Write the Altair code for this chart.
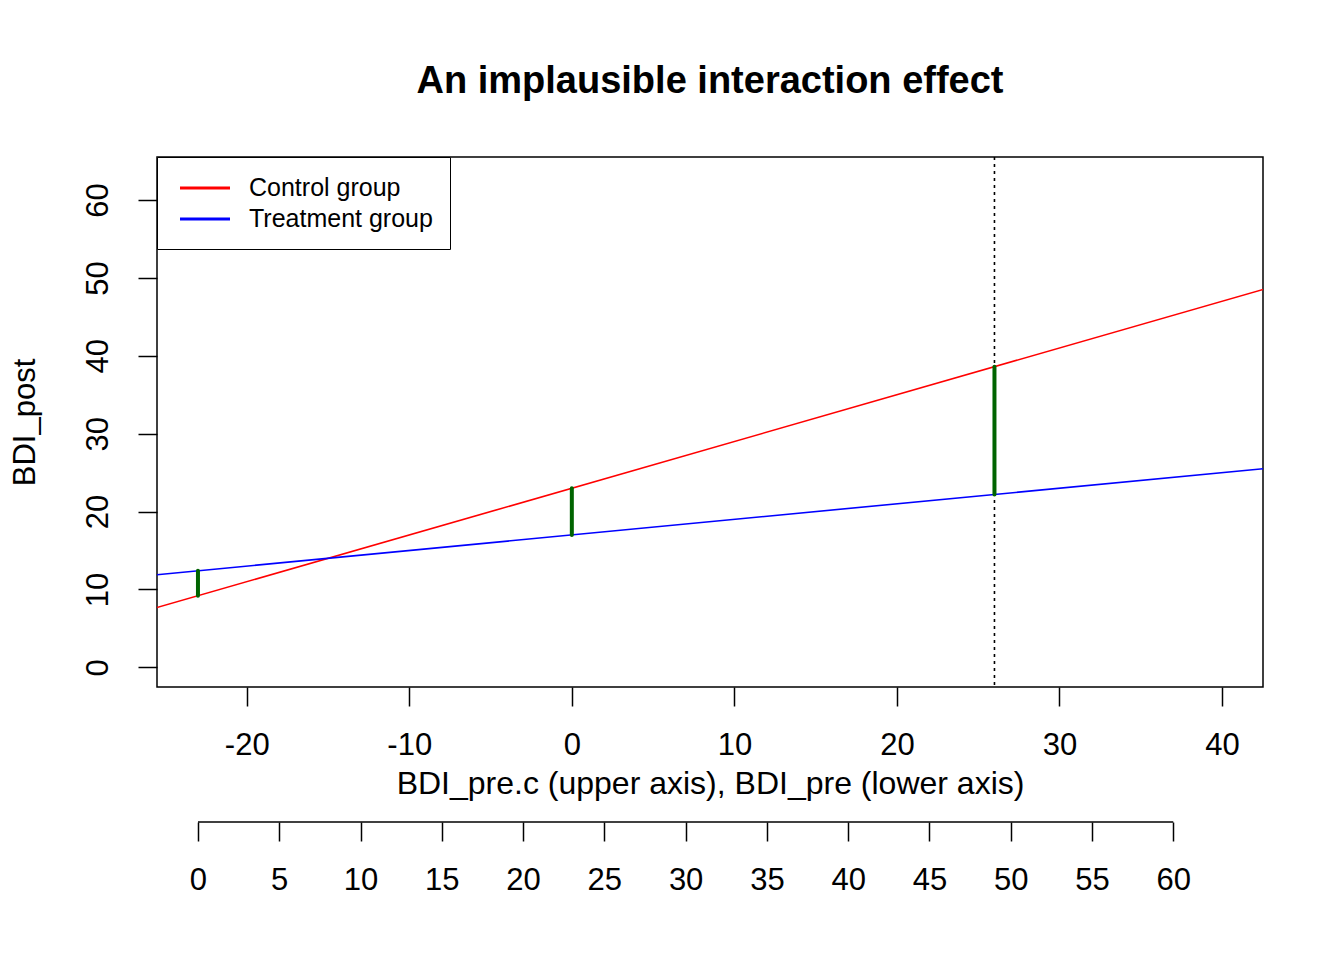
import altair as alt
import pandas as pd

FONT = "Liberation Sans"

# regression lines, read at two x positions beyond the plot edges (clipped)
groups = ["Control group", "Treatment group"]
line_x = [-30, 45]
ctrl_y = [5.0, 50.0]
treat_y = [11.0, 26.0]

# simple-slope differences marked in green
diff_x = [-23, 0, 26]
diff_ctrl = [9.2, 23.0, 38.6]
diff_treat = [12.4, 17.0, 22.2]

vline_x = [26]

upper_ticks = [-20, -10, 0, 10, 20, 30, 40]
lower_ticks = [0, 5, 10, 15, 20, 25, 30, 35, 40, 45, 50, 55, 60]
y_ticks = [0, 10, 20, 30, 40, 50, 60]

# data range of BDI_pre.c and BDI_post, with R's 4% axis padding
x_min, x_max = -23, 40
y_min, y_max = 0, 63
shift = 23  # BDI_pre = BDI_pre.c + 23
xpad = 0.04 * (x_max - x_min)
ypad = 0.04 * (y_max - y_min)
x_dom = [x_min - xpad, x_max + xpad]
y_dom = [y_min - ypad, y_max + ypad]

lines = pd.DataFrame({
    "x": line_x * 2,
    "y": ctrl_y + treat_y,
    "group": [groups[0]] * 2 + [groups[1]] * 2,
})
diffs = pd.DataFrame({"x": diff_x, "y": diff_ctrl, "y2": diff_treat})
vline = pd.DataFrame({"x": vline_x})
lower = pd.DataFrame({"x": [lower_ticks[0]], "x2": [lower_ticks[-1]]})

x_scale = alt.Scale(domain=x_dom, nice=False, zero=False)
y_scale = alt.Scale(domain=y_dom, nice=False, zero=False)

# R prints a plain hyphen for negative numbers
hyphen = "datum.value < 0 ? '-' + abs(datum.value) : '' + datum.value"

x_axis = alt.Axis(
    values=upper_ticks, grid=False, domain=False, tickSize=19, tickColor="black",
    tickWidth=1.5, labelFontSize=31, labelPadding=24, labelColor="black",
    labelExpr=hyphen,
    title="BDI_pre.c (upper axis), BDI_pre (lower axis)", titleFontSize=32,
    titleFontWeight="normal", titleColor="black", titlePadding=8,
)
y_axis = alt.Axis(
    values=y_ticks, grid=False, domain=False, tickSize=19, tickColor="black",
    tickWidth=1.5, labelFontSize=31, labelAngle=-90, labelAlign="center",
    labelBaseline="bottom", labelPadding=24, labelColor="black",
    title="BDI_post", titleFontSize=31, titleFontWeight="normal",
    titleColor="black", titlePadding=41,
)

reg = alt.Chart(lines).mark_line(clip=True, strokeWidth=1.6).encode(
    x=alt.X("x:Q", scale=x_scale, axis=x_axis),
    y=alt.Y("y:Q", scale=y_scale, axis=y_axis),
    color=alt.Color(
        "group:N",
        scale=alt.Scale(domain=groups, range=["#ff0000", "#0000ff"]),
        legend=alt.Legend(
            title=None, orient="top-left", offset=0, padding=17,
            strokeColor="black", fillColor="white", symbolType="M-2,0L2,0",
            symbolSize=625, symbolStrokeWidth=3, labelFontSize=25,
            labelColor="black", rowPadding=4, symbolOffset=17, labelOffset=30,
            labelLimit=400,
        ),
    ),
    detail="group:N",
)

green = alt.Chart(diffs).mark_rule(color="#006400", strokeWidth=4, strokeCap="round").encode(
    x="x:Q", y="y:Q", y2="y2:Q"
)

dotted = alt.Chart(vline).mark_rule(color="black", strokeWidth=1.6, strokeDash=[3, 4]).encode(
    x="x:Q"
)

main = alt.layer(reg, dotted, green)

lower_axis = alt.Chart(lower).mark_rule(color="black", strokeWidth=1.5).encode(
    x=alt.X(
        "x:Q",
        scale=alt.Scale(domain=[d + shift for d in x_dom], nice=False, zero=False),
        axis=alt.Axis(
            values=lower_ticks, orient="bottom", offset=135, grid=False, domain=False,
            tickSize=19, tickColor="black", tickWidth=1.5, labelFontSize=31,
            labelPadding=24, labelColor="black", title=None,
        ),
    ),
    x2="x2:Q",
    y=alt.value(665),
)

chart = (
    alt.layer(main, lower_axis)
    .resolve_scale(x="independent")
    .properties(
        width=1106,
        height=530,
        autosize=alt.AutoSizeParams(type="none"),
        padding={"left": 149, "top": 149, "right": 73, "bottom": 265},
        title=alt.TitleParams(
            "An implausible interaction effect", fontSize=38, fontWeight="bold",
            color="black", anchor="middle", offset=55,
        ),
    )
    .configure(font=FONT)
    .configure_view(stroke="black", strokeWidth=1.5)
)

chart.save("out.html", embed_options={"renderer": "svg", "actions": False})
